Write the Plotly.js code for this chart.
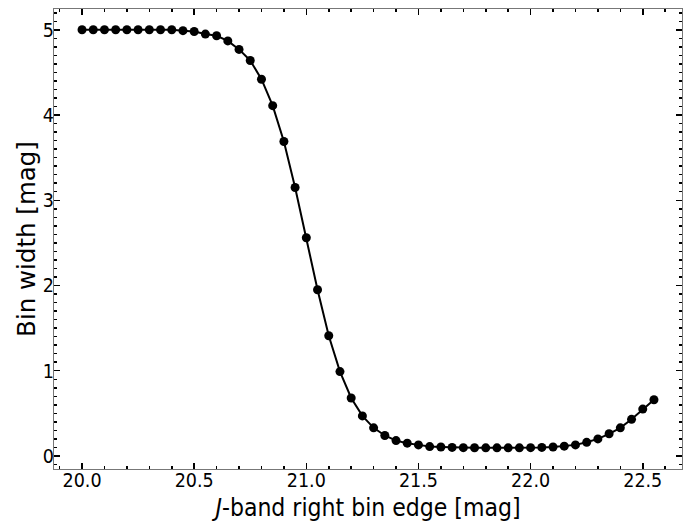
<!DOCTYPE html>
<html>
<head>
<meta charset="utf-8">
<script src="https://cdn.plot.ly/plotly-3.0.1.min.js"></script>
<style>html,body{margin:0;padding:0;background:#fff;}#chart{width:696px;height:522px;}</style>
</head>
<body>
<div id="chart"></div>
<script>
const binEdge = [20.00,20.05,20.10,20.15,20.20,20.25,20.30,20.35,20.40,20.45,
                 20.50,20.55,20.60,20.65,20.70,20.75,20.80,20.85,20.90,20.95,
                 21.00,21.05,21.10,21.15,21.20,21.25,21.30,21.35,21.40,21.45,
                 21.50,21.55,21.60,21.65,21.70,21.75,21.80,21.85,21.90,21.95,
                 22.00,22.05,22.10,22.15,22.20,22.25,22.30,22.35,22.40,22.45,
                 22.50,22.55];
const binWidth = [5.00,5.00,5.00,5.00,5.00,5.00,5.00,5.00,5.00,4.99,
                  4.98,4.95,4.93,4.87,4.77,4.64,4.42,4.11,3.69,3.15,
                  2.56,1.95,1.41,0.99,0.68,0.47,0.33,0.24,0.18,0.15,
                  0.13,0.11,0.105,0.10,0.097,0.096,0.095,0.095,0.095,0.095,
                  0.097,0.10,0.105,0.115,0.13,0.16,0.20,0.26,0.33,0.43,
                  0.55,0.66];
const xTitle = '<i>J</i>-band right bin edge [mag]';
const yTitle = 'Bin width [mag]';

const condensed = 'DejaVu Sans Condensed, DejaVu Sans, sans-serif';
const axisCommon = {
  showgrid: false, zeroline: false,
  showline: true, linecolor: '#777', linewidth: 1.2, mirror: 'ticks',
  ticks: 'inside', ticklen: 6, tickwidth: 1.5, tickcolor: '#000',
  tickfont: {family: condensed, size: 19.5, color: '#000'},
  automargin: false
};

Plotly.newPlot('chart', [{
  x: binEdge, y: binWidth, type: 'scatter', mode: 'lines+markers',
  line: {color: '#000', width: 2},
  marker: {color: '#000', size: 9},
  showlegend: false
}], {
  width: 696, height: 522,
  margin: {l: 54, r: 14, t: 9, b: 53},
  paper_bgcolor: '#fff', plot_bgcolor: '#fff',
  xaxis: Object.assign({}, axisCommon, {
    range: [19.875, 22.675], tick0: 20, dtick: 0.5, tickformat: '.1f',
    ticklabelstandoff: -7,
    minor: {dtick: 0.1, ticks: 'inside', ticklen: 3, tickwidth: 1.5, tickcolor: '#000'},
    title: {text: xTitle, font: {family: condensed, size: 24.5, color: '#000'}, standoff: 10}
  }),
  yaxis: Object.assign({}, axisCommon, {
    range: [-0.153, 5.244], tick0: 0, dtick: 1,
    ticklabelstandoff: -5,
    minor: {dtick: 0.1, ticks: 'inside', ticklen: 3, tickwidth: 1.5, tickcolor: '#000'},
    title: {text: yTitle, font: {family: 'DejaVu Sans, sans-serif', size: 24.5, color: '#000'}, standoff: 0}
  })
}, {displayModeBar: false, staticPlot: true});
</script>
</body>
</html>
